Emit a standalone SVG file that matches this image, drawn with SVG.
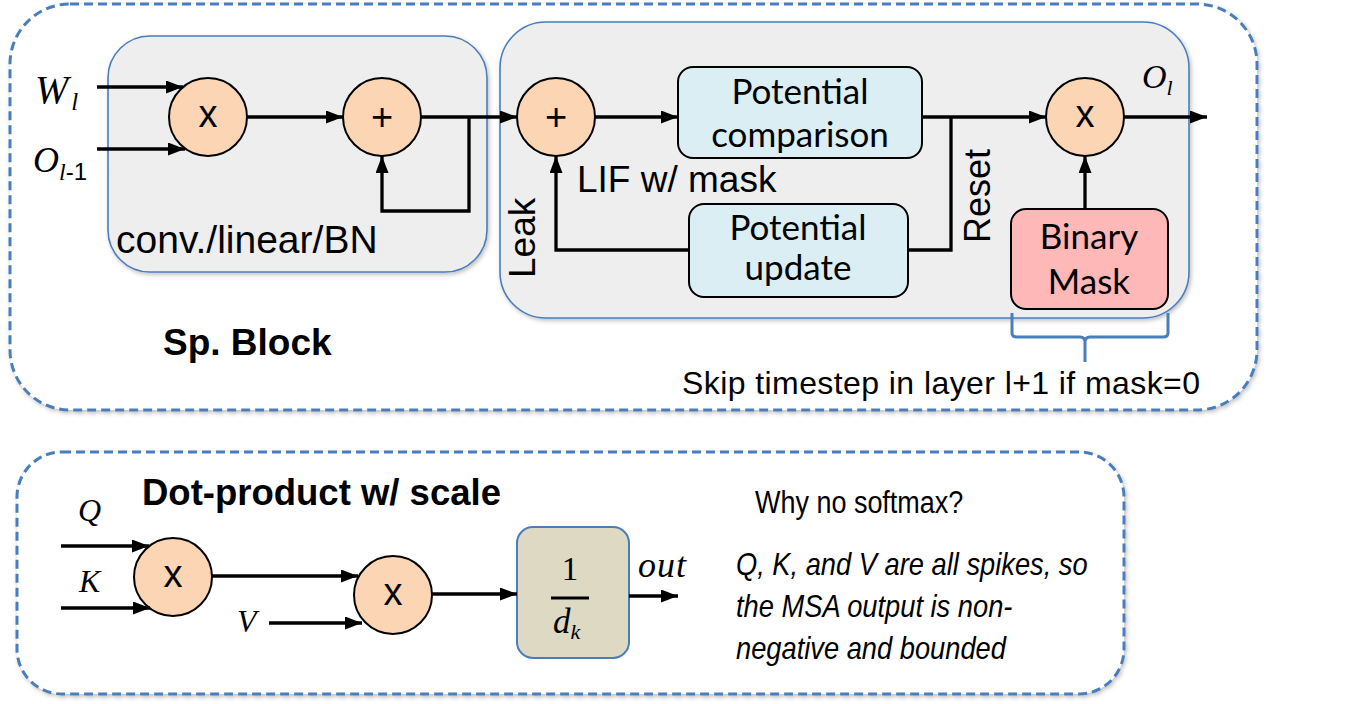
<svg xmlns="http://www.w3.org/2000/svg" width="1360" height="704" viewBox="0 0 1360 704">
<style>
.outer{fill:#fff;stroke:#4A7EBB;stroke-width:3;stroke-dasharray:9 5}
.blk{fill:#EEEEEE;stroke:#4A7EBB;stroke-width:1.6}
.op{fill:#FCD5B5;stroke:#000;stroke-width:2}
.bb{fill:#DBEEF4;stroke:#000;stroke-width:2}
.pk{fill:#FFB8B8;stroke:#000;stroke-width:2}
.tan{fill:#DDD9C3;stroke:#4A7EBB;stroke-width:2}
.c{fill:none;stroke:#000;stroke-width:3.3}
.s{font-family:"Liberation Sans",Arial,sans-serif;fill:#000}
.cal{font-family:Lato,"Noto Sans",sans-serif;fill:#000;font-size:35px;text-anchor:middle}
.m{font-family:"Liberation Serif","DejaVu Serif",serif;font-style:italic;fill:#000}
.sym{font-family:"Liberation Sans",Arial,sans-serif;font-size:38px;text-anchor:middle;fill:#000}
</style>
<defs>
<marker id="ah" markerUnits="userSpaceOnUse" markerWidth="17" markerHeight="13" refX="17" refY="6.5" orient="auto">
<path d="M0,0 L17,6.5 L0,13 z" fill="#000"/>
</marker>
<filter id="sh" x="-5%" y="-5%" width="110%" height="115%">
<feDropShadow dx="1.5" dy="2" stdDeviation="2" flood-color="#000" flood-opacity="0.25"/>
</filter>
</defs>

<g id="sp-block-frame">
<rect class="outer" x="10" y="4" width="1247" height="406" rx="60" filter="url(#sh)"/>
<text class="s" x="163" y="355" font-size="37" font-weight="bold">Sp. Block</text>
</g>
<g id="conv-block">
<rect class="blk" x="108" y="36" width="379" height="236" rx="42" filter="url(#sh)"/>
<text class="s" x="116" y="253" font-size="39">conv./linear/BN</text>
</g>
<g id="lif-block">
<rect class="blk" x="500" y="22" width="689" height="296" rx="46" filter="url(#sh)"/>
<text class="s" x="577" y="192" font-size="37">LIF w/ mask</text>
<text class="s" font-size="37" transform="translate(535,278) rotate(-90)">Leak</text>
<text class="s" font-size="36" transform="translate(990,243) rotate(-90)">Reset</text>
</g>

<g id="in-W"><text class="m" x="35" y="103" font-size="40">W<tspan font-size="25" dy="7" dx="3">l</tspan></text></g>
<g id="in-O"><text class="m" x="33" y="172" font-size="36">O<tspan font-size="24" dy="8">l</tspan><tspan font-size="24" font-style="normal" font-family="'Liberation Sans',sans-serif">-1</tspan></text></g>

<g id="mul1"><circle class="op" cx="208" cy="117" r="39"/><text class="sym" x="208" y="127">x</text></g>
<g id="add1"><circle class="op" cx="382" cy="117" r="39"/><text class="sym" x="382" y="130">+</text></g>
<g id="add2"><circle class="op" cx="556" cy="117" r="39"/><text class="sym" x="556" y="130">+</text></g>
<g id="mul2"><circle class="op" cx="1085" cy="117" r="39"/><text class="sym" x="1085" y="127">x</text></g>

<g id="pot-comp"><rect class="bb" x="678" y="67" width="244" height="91" rx="15"/>
<text class="cal" x="800" y="104">Potential</text><text class="cal" x="800" y="147">comparison</text></g>
<g id="pot-upd"><rect class="bb" x="689" y="204" width="219" height="93" rx="15"/>
<text class="cal" x="798" y="240">Potential</text><text class="cal" x="798" y="280">update</text></g>
<g id="mask"><rect class="pk" x="1011" y="209" width="157" height="100" rx="15"/>
<text class="cal" x="1089" y="249">Binary</text><text class="cal" x="1089" y="294">Mask</text></g>

<g id="out-O"><text class="m" x="1142" y="88" font-size="34">O<tspan font-size="22" dy="7">l</tspan></text></g>

<g id="brace-note">
<path d="M1012,313 L1012,333 Q1012,337 1017,337 L1080,337 Q1085,337 1085,342 L1085,362 L1085,342 Q1085,337 1090,337 L1163,337 Q1168,337 1168,333 L1168,313" fill="none" stroke="#4A7EBB" stroke-width="3"/>
<text class="s" x="1200" y="394" font-size="32" text-anchor="end" textLength="518">Skip timestep in layer l+1 if mask=0</text>
</g>

<g id="dot-frame">
<rect class="outer" x="17" y="452" width="1107" height="242" rx="45" filter="url(#sh)"/>
<text class="s" x="142" y="505" font-size="36.5" font-weight="bold">Dot-product w/ scale</text>
</g>
<g id="in-Q"><text class="m" x="78" y="521" font-size="32">Q</text></g>
<g id="in-K"><text class="m" x="79" y="592" font-size="32">K</text></g>
<g id="in-V"><text class="m" x="237" y="632" font-size="32">V</text></g>
<g id="mul3"><circle class="op" cx="173" cy="577" r="39"/><text class="sym" x="173" y="587">x</text></g>
<g id="mul4"><circle class="op" cx="393" cy="595" r="39"/><text class="sym" x="393" y="605">x</text></g>
<g id="scale"><rect class="tan" x="517" y="527" width="112" height="131" rx="16"/>
<text x="570" y="580" font-family="'Liberation Serif',serif" font-size="33" text-anchor="middle">1</text>
<line x1="551" y1="598" x2="589" y2="598" stroke="#000" stroke-width="3"/>
<text class="m" x="553" y="633" font-size="35">d<tspan font-size="22" dy="6">k</tspan></text></g>
<g id="out-label"><text class="m" x="638" y="577" font-size="36" letter-spacing="1">out</text></g>
<g id="note">
<text class="s" font-size="31" transform="translate(755,513) scale(0.87,1)">Why no softmax?</text>
<text class="s" font-size="31" font-style="italic" transform="translate(736,0) scale(0.88,1)"><tspan x="0" y="575">Q, K, and V are all spikes, so</tspan><tspan x="0" y="617">the MSA output is non-</tspan><tspan x="0" y="659">negative and bounded</tspan></text>
</g>

<g id="connectors">
<path class="c" marker-end="url(#ah)" d="M97,87 L183,87"/>
<path class="c" marker-end="url(#ah)" d="M97,149 L185,149"/>
<path class="c" marker-end="url(#ah)" d="M247,117 L343,117"/>
<path class="c" marker-end="url(#ah)" d="M421,117 L517,117"/>
<path class="c" marker-end="url(#ah)" d="M469,117 L469,211 L382,211 L382,156"/>
<path class="c" marker-end="url(#ah)" d="M595,117 L678,117"/>
<path class="c" marker-end="url(#ah)" d="M922,117 L1046,117"/>
<path class="c" d="M951,117 L951,250 L908,250"/>
<path class="c" marker-end="url(#ah)" d="M689,250 L556,250 L556,156"/>
<path class="c" marker-end="url(#ah)" d="M1085,209 L1085,156"/>
<path class="c" marker-end="url(#ah)" d="M1124,117 L1207,117"/>
<path class="c" marker-end="url(#ah)" d="M61,546 L149,546"/>
<path class="c" marker-end="url(#ah)" d="M61,608 L150,608"/>
<path class="c" marker-end="url(#ah)" d="M212,576 L358,576"/>
<path class="c" marker-end="url(#ah)" d="M269,623 L362,623"/>
<path class="c" marker-end="url(#ah)" d="M432,594 L517,594"/>
<path class="c" marker-end="url(#ah)" d="M629,596 L678,596"/>
</g>
</svg>
